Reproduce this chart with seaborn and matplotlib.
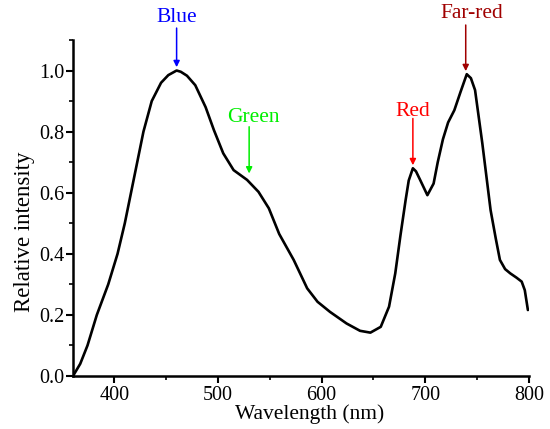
import seaborn as sns
import matplotlib.pyplot as plt
from matplotlib.ticker import MultipleLocator

# spectrum
wavelength = [360, 367, 374, 383, 394, 403, 410, 416, 422, 428, 436, 445, 452, 460,
              464, 470, 478, 488, 496, 505, 515, 528, 539, 549, 559, 573, 586, 596,
              608, 624, 637, 647, 657, 665, 671, 676, 681, 684, 688, 691, 695, 702,
              708, 712, 717, 722, 728, 734, 740, 744, 748, 755, 763, 768, 772, 777,
              782, 788, 793, 796, 799]
intensity = [0.0, 0.04, 0.1, 0.2, 0.3, 0.4, 0.5, 0.6, 0.7, 0.8, 0.9, 0.96, 0.985, 1.0,
             0.996, 0.983, 0.952, 0.88, 0.805, 0.729, 0.674, 0.642, 0.603, 0.549,
             0.465, 0.38, 0.287, 0.243, 0.21, 0.172, 0.148, 0.142, 0.161, 0.227,
             0.336, 0.46, 0.576, 0.64, 0.68, 0.67, 0.642, 0.592, 0.63, 0.7, 0.775,
             0.83, 0.87, 0.93, 0.988, 0.975, 0.936, 0.762, 0.543, 0.45, 0.38, 0.35,
             0.336, 0.322, 0.309, 0.281, 0.216]

peak_names = ["Blue", "Green", "Red", "Far-red"]
peak_colors = ["#0000ff", "#00ee00", "#ff0000", "#a00000"]
peak_x = [460, 530, 688, 739]
arrow_tip = [1.011, 0.663, 0.69, 0.998]
arrow_tail = [1.139, 0.816, 0.843, 1.149]
label_x = [460.5, 534, 687.5, 745]
label_y = [1.175, 0.845, 0.866, 1.187]

sns.set_theme(style="ticks")
plt.rcParams["font.family"] = ["Liberation Serif", "DejaVu Serif"]

fig = plt.figure(figsize=(5.5, 4.29), dpi=100)
ax = fig.add_axes([0.1327, 0.1235, 0.829, 0.7833])

sns.lineplot(x=wavelength, y=intensity, ax=ax, color="black", linewidth=1.9)

ax.set_xlim(360, 800)
ax.set_ylim(0, 1.1)
ax.xaxis.set_major_locator(MultipleLocator(100))
ax.xaxis.set_minor_locator(MultipleLocator(50))
ax.yaxis.set_major_locator(MultipleLocator(0.2))
ax.yaxis.set_minor_locator(MultipleLocator(0.1))
ax.yaxis.set_major_formatter(plt.FormatStrFormatter("%.1f"))

for s in ["top", "right"]:
    ax.spines[s].set_visible(False)
for s in ["left", "bottom"]:
    ax.spines[s].set_linewidth(1.8)
    ax.spines[s].set_color("black")

ax.tick_params(which="major", direction="out", length=5, width=1.5,
               labelsize=14.5, color="black", labelcolor="black", pad=2)
ax.tick_params(which="minor", direction="out", length=3, width=1.2, color="black")
ax.tick_params(axis="y", which="major", pad=1)

ax.set_xlabel("Wavelength (nm)", fontsize=15.5, labelpad=0, color="black")
ax.set_ylabel("Relative intensity", fontsize=16.5, labelpad=3, color="black")
ax.xaxis.label.set_x(0.52)
ax.yaxis.label.set_y(0.43)

for name, col, x, tip, tail, tx, ty in zip(peak_names, peak_colors, peak_x,
                                           arrow_tip, arrow_tail, label_x, label_y):
    ax.annotate("", xy=(x, tip), xytext=(x, tail),
                arrowprops=dict(arrowstyle="-|>", color=col, lw=1.1,
                                mutation_scale=9, shrinkA=0, shrinkB=0),
                annotation_clip=False)
    ax.text(tx, ty, name, color=col, fontsize=15.5, ha="center", va="center",
            clip_on=False)

fig.savefig("out.png", dpi=100)
